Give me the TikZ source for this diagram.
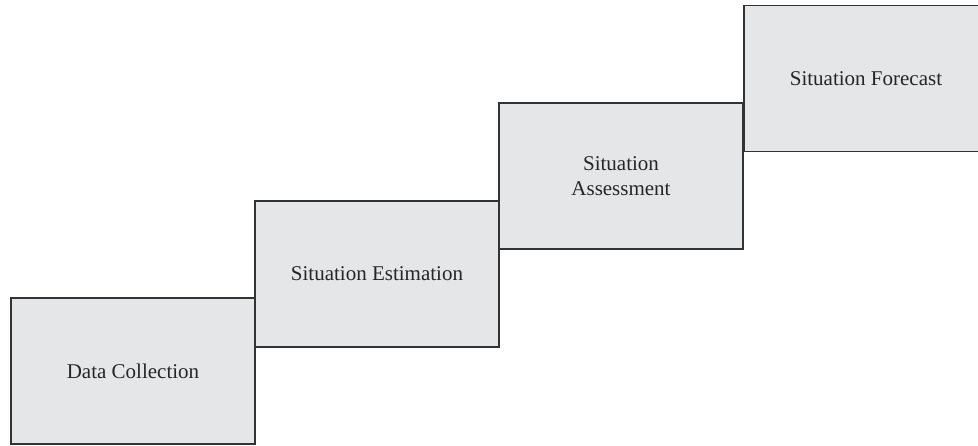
\documentclass[tikz,border=0pt]{standalone}
\usepackage{fontspec}
\setmainfont{Liberation Serif}
\definecolor{boxfill}{HTML}{E5E6E8}
\definecolor{boxline}{HTML}{333333}
\begin{document}
\begin{tikzpicture}[x=1pt,y=-1pt,
  stage/.style={draw=boxline, fill=boxfill, line width=1.2pt, rectangle,
    minimum width=244pt, minimum height=146pt, inner sep=0pt,
    align=center, font=\fontsize{21}{25}\selectfont, text=black!85}]
\useasboundingbox (0,0) rectangle (978,445);
\clip (0,0) rectangle (978,445);
\node[stage] (dc) at (133,371) {Data Collection};
\node[stage] (se) at (377,274) {Situation Estimation};
\node[stage] (sa) at (621,176) {Situation\\Assessment};
\node[stage] (sf) at (866,78.5) {Situation Forecast};
\end{tikzpicture}
\end{document}
